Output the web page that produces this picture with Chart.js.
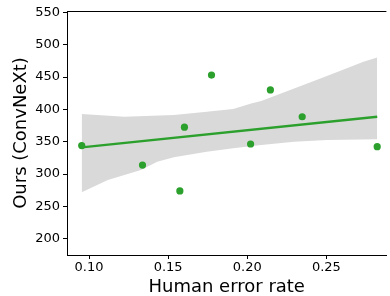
<!DOCTYPE html>
<html><head><meta charset="utf-8">
<script src="https://cdn.jsdelivr.net/npm/chart.js@4/dist/chart.umd.min.js"></script>
<style>html,body{margin:0;padding:0;background:#fff}#wrap{width:390px;height:296px}</style>
</head><body><div id="wrap"><canvas id="c" width="390" height="296"></canvas></div>
<script>
// Scatter points (human error rate, model score)
const humanError = [0.0954, 0.1338, 0.1574, 0.1603, 0.1774, 0.2021, 0.2146, 0.2347, 0.2821];
const oursScore  = [344, 314, 274, 372.5, 453, 346.5, 430, 388.6, 342.3];
// Regression line endpoints
const fitX = [0.0954, 0.2821];
const fitY = [341.4, 388.6];
// Confidence band
const bandUpperX = [0.0954, 0.1223, 0.1536, 0.1744, 0.1911, 0.2025, 0.2088, 0.2296, 0.2462, 0.2609, 0.2734, 0.2821];
const bandUpperY = [392.7, 388.6, 391.2, 396.3, 400.4, 409.2, 412.8, 432.4, 447.8, 461.7, 473.4, 480.2];
const bandLowerX = [0.0954, 0.1119, 0.1328, 0.1431, 0.1536, 0.1744, 0.1911, 0.2088, 0.2296, 0.2504, 0.2821];
const bandLowerY = [272, 291, 306.4, 319.2, 326, 334.6, 339.9, 344.9, 350, 352.7, 353.7];
// Tick labels
const xTicks = [0.10, 0.15, 0.20, 0.25];
const yTicks = [200, 250, 300, 350, 400, 450, 500, 550];

const zip = (xs, ys) => xs.map((x, i) => ({x, y: ys[i]}));
const green = '#2ca02c';

const topSpine = {
  id: 'topSpine',
  afterDraw(chart) {
    const {ctx, chartArea} = chart;
    ctx.save();
    ctx.strokeStyle = '#000';
    ctx.lineWidth = 1;
    ctx.beginPath();
    ctx.moveTo(chartArea.left, chartArea.top + 0.5);
    ctx.lineTo(chartArea.right, chartArea.top + 0.5);
    ctx.stroke();
    ctx.restore();
  }
};

new Chart(document.getElementById('c'), {
  type: 'scatter',
  data: {
    datasets: [
      { type: 'scatter', data: zip(humanError, oursScore), backgroundColor: green, borderColor: green,
        pointRadius: 3.6, pointHoverRadius: 3.6, borderWidth: 0, order: 0 },
      { type: 'line', data: zip(fitX, fitY), borderColor: green, borderWidth: 2.3, pointRadius: 0,
        fill: false, tension: 0, order: 1 },
      { type: 'line', data: zip(bandUpperX, bandUpperY), borderWidth: 0, pointRadius: 0,
        backgroundColor: 'rgb(217,217,217)', borderColor: 'rgba(0,0,0,0)', fill: '+1', tension: 0, order: 2 },
      { type: 'line', data: zip(bandLowerX, bandLowerY), borderWidth: 0, pointRadius: 0,
        borderColor: 'rgba(0,0,0,0)', fill: false, tension: 0, order: 3 }
    ]
  },
  options: {
    responsive: false,
    animation: false,
    events: [],
    layout: { padding: { top: 11, right: 0, left: 0, bottom: 0 } },
    plugins: { legend: { display: false }, tooltip: { enabled: false } },
    scales: {
      x: {
        type: 'linear', min: 0.0861, max: 0.2879,
        afterBuildTicks: s => { s.ticks = xTicks.map(v => ({value: v})); },
        afterFit: s => { s.height = 41; },
        grid: { drawOnChartArea: false, drawTicks: true, tickLength: 4, color: '#000' },
        border: { display: true, color: '#000', width: 1 },
        ticks: { color: '#000', padding: 1, maxRotation: 0, font: { family: 'DejaVu Sans', size: 13 },
          callback: v => v.toFixed(2) },
        title: { display: true, text: 'Human error rate', color: '#000',
          font: { family: 'DejaVu Sans', size: 18, lineHeight: 1 }, padding: { top: 0, bottom: 0 } }
      },
      y: {
        type: 'linear', min: 175, max: 552,
        afterBuildTicks: s => { s.ticks = yTicks.map(v => ({value: v})); },
        afterFit: s => { s.width = 67; },
        grid: { drawOnChartArea: false, drawTicks: true, tickLength: 4, color: '#000' },
        border: { display: true, color: '#000', width: 1 },
        ticks: { color: '#000', padding: 3, font: { family: 'DejaVu Sans', size: 13 },
          callback: v => String(v) },
        title: { display: true, text: 'Ours (ConvNeXt)', color: '#000',
          font: { family: 'DejaVu Sans', size: 18, lineHeight: 1 }, padding: { top: 12, bottom: 0 } }
      }
    }
  },
  plugins: [topSpine]
});
</script>
</body></html>
